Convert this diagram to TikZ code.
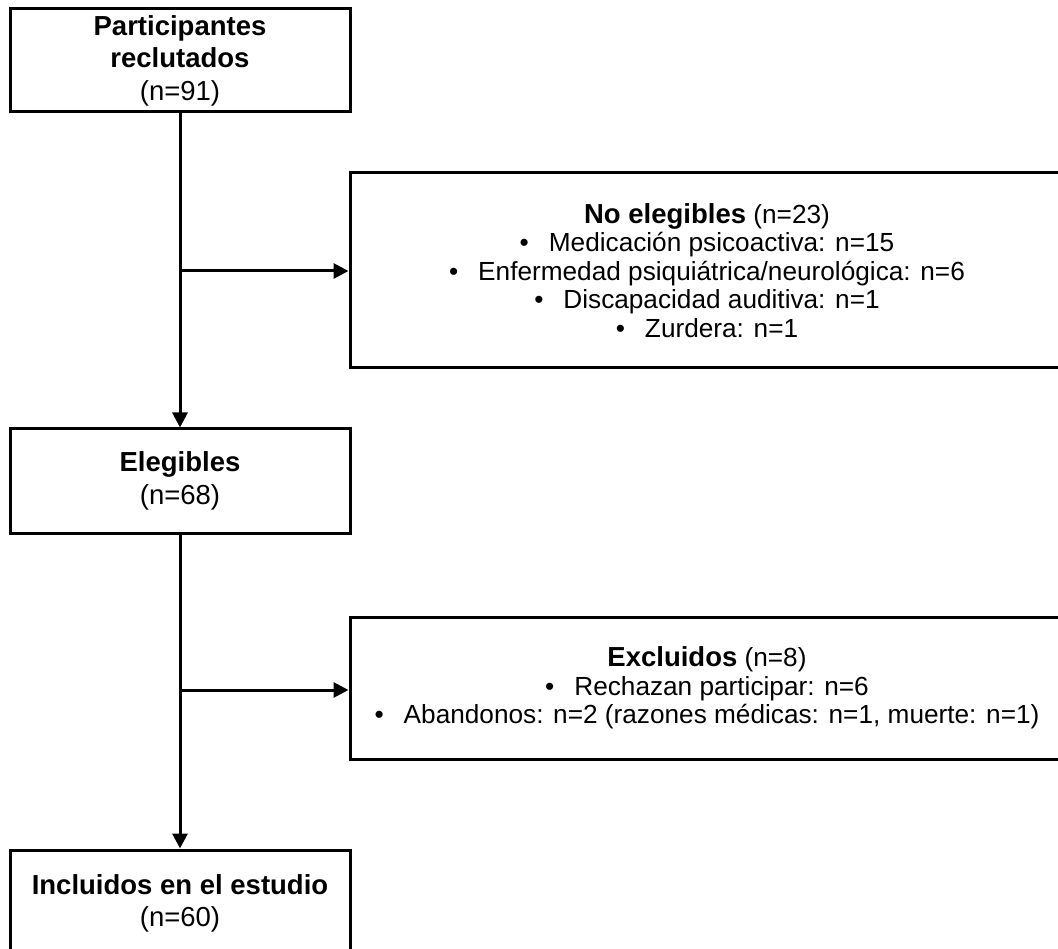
\documentclass[tikz,border=0pt]{standalone}
\usepackage{fontspec}
\setmainfont{Liberation Sans}
\usetikzlibrary{arrows.meta}
\newcommand\bitem{\textbullet\hspace{20pt}}
\newcommand\bhead[1]{{\fontsize{27.5}{28.5}\selectfont\bfseries #1}}
\begin{document}
\begin{tikzpicture}[x=1pt,y=-1pt,
  box/.style={draw,line width=3pt,inner sep=0pt,align=center,font=\fontsize{27.5}{32.5}\selectfont},
  sidebox/.style={box,font=\fontsize{26.2}{28.5}\selectfont},
  conn/.style={line width=3pt,-{Triangle[length=15pt,width=15pt]}}]
\useasboundingbox (0,0) rectangle (1058,949);
\clip (0,0) rectangle (1058,949);
\node[box,minimum width=340pt,minimum height=103pt] (rec) at (180,60.5)
  {\textbf{Participantes}\\\textbf{reclutados}\\(n=91)};
\node[sidebox,minimum width=714pt,minimum height=195pt] (nelig) at (707,270.5)
  {\bhead{No elegibles} (n=23)\\
   \bitem Medicación psicoactiva: n=15\\
   \bitem Enfermedad psiquiátrica/neurológica: n=6\\
   \bitem Discapacidad auditiva: n=1\\
   \bitem Zurdera: n=1};
\node[box,minimum width=340pt,minimum height=104pt] (elig) at (180,481)
  {\textbf{Elegibles}\\(n=68)};
\node[sidebox,minimum width=714pt,minimum height=142pt] (excl) at (707,688)
  {\bhead{Excluidos} (n=8)\\
   \bitem Rechazan participar: n=6\\
   \bitem Abandonos: n=2 (razones médicas: n=1, muerte: n=1)};
\node[box,minimum width=340pt,minimum height=107pt] (incl) at (180,903.5)
  {\textbf{Incluidos en el estudio}\\(n=60)};
\coordinate (b1) at (180,271);
\coordinate (b2) at (180,690);
\draw[conn] (rec.south) -- (elig.north);
\draw[conn] (b1) -- (b1 -| nelig.west);
\draw[conn] (elig.south) -- (incl.north);
\draw[conn] (b2) -- (b2 -| excl.west);
\end{tikzpicture}
\end{document}
